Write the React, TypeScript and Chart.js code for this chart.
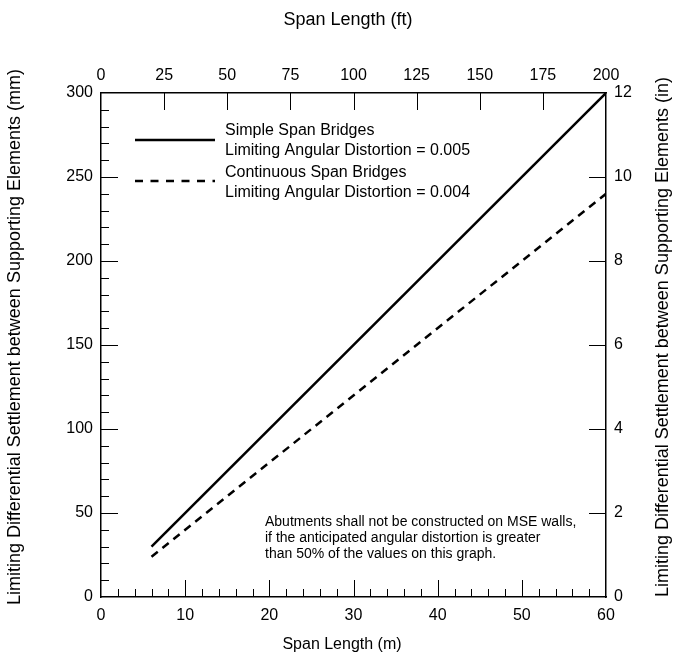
import React, { useEffect, useRef } from "react";
import { Chart, registerables } from "chart.js";

Chart.register(...registerables);

// ---- data ----
const spanM = [6, 60];
const simpleMM = [30, 300];
const continuousMM = [24, 240];
const seriesNames = ["Simple Span Bridges", "Continuous Span Bridges"];
const seriesNotes = ["Limiting Angular Distortion = 0.005", "Limiting Angular Distortion = 0.004"];
const noteLines = [
  "Abutments shall not be constructed on MSE walls,",
  "if the anticipated angular distortion is greater",
  "than 50% of the values on this graph.",
];
const xTitle = "Span Length (m)";
const x2Title = "Span Length (ft)";
const yTitle = "Limiting Differential Settlement between Supporting Elements (mm)";
const y2Title = "Limiting Differential Settlement between Supporting Elements (in)";

const FONT = "'Liberation Sans', Arial, sans-serif";

const decorPlugin = {
  id: "decor",
  afterDraw(chart: any) {
    const ctx = chart.ctx;
    const { left, right, top, bottom } = chart.chartArea;
    const sx = chart.scales.x, sy = chart.scales.y, sx2 = chart.scales.x2, sy2 = chart.scales.y2;
    ctx.save();
    ctx.strokeStyle = "#000";
    ctx.lineWidth = 1;
    // bottom ticks
    for (let v = 2; v < 60; v += 2) {
      const px = Math.round(sx.getPixelForValue(v)) + 0.5;
      const len = v % 10 === 0 ? 17 : 8;
      ctx.beginPath(); ctx.moveTo(px, bottom); ctx.lineTo(px, bottom - len); ctx.stroke();
    }
    // left ticks
    for (let v = 10; v < 300; v += 10) {
      const py = Math.round(sy.getPixelForValue(v)) + 0.5;
      const len = v % 50 === 0 ? 17 : 8;
      ctx.beginPath(); ctx.moveTo(left, py); ctx.lineTo(left + len, py); ctx.stroke();
    }
    // top ticks
    for (let v = 25; v < 200; v += 25) {
      const px = Math.round(sx2.getPixelForValue(v)) + 0.5;
      ctx.beginPath(); ctx.moveTo(px, top); ctx.lineTo(px, top + 17); ctx.stroke();
    }
    // right ticks
    for (let v = 2; v < 12; v += 2) {
      const py = Math.round(sy2.getPixelForValue(v)) + 0.5;
      ctx.beginPath(); ctx.moveTo(right, py); ctx.lineTo(right - 17, py); ctx.stroke();
    }

    // legend
    ctx.lineWidth = 2.5;
    ctx.beginPath(); ctx.moveTo(135, 140); ctx.lineTo(215, 140); ctx.stroke();
    ctx.setLineDash([8, 7.5]);
    ctx.beginPath(); ctx.moveTo(135, 181); ctx.lineTo(215, 181); ctx.stroke();
    ctx.setLineDash([]);

    ctx.fillStyle = "#000";
    ctx.textBaseline = "middle";
    ctx.textAlign = "left";
    ctx.font = `16px ${FONT}`;
    ctx.fillText(seriesNames[0], 225, 131);
    ctx.fillText(seriesNotes[0], 225, 151);
    ctx.fillText(seriesNames[1], 225, 173);
    ctx.fillText(seriesNotes[1], 225, 193);

    ctx.font = `14px ${FONT}`;
    noteLines.forEach((t, i) => ctx.fillText(t, 265, 522 + i * 16));

    // axis titles
    ctx.textAlign = "center";
    ctx.font = `16px ${FONT}`;
    ctx.fillText(xTitle, 342, 645);
    ctx.font = `18px ${FONT}`;
    ctx.fillText(x2Title, 348, 20);
    const vcy = 337;
    ctx.save();
    ctx.translate(15, vcy);
    ctx.rotate(-Math.PI / 2);
    ctx.fillText(yTitle, 0, 0);
    ctx.restore();
    ctx.save();
    ctx.translate(663, vcy);
    ctx.rotate(-Math.PI / 2);
    ctx.fillText(y2Title, 0, 0);
    ctx.restore();
    ctx.restore();
  },
};

export default function App() {
  const ref = useRef<HTMLCanvasElement | null>(null);
  useEffect(() => {
    if (!ref.current) return;
    Chart.defaults.font.family = FONT;
    Chart.defaults.color = "#000";
    const border = { display: true, color: "#000", width: 1.5 };
    const grid = { display: false, drawTicks: false };
    const tickFont = { size: 16, family: FONT };
    const chart = new Chart(ref.current, {
      type: "line",
      data: {
        datasets: [
          {
            label: seriesNames[0],
            data: spanM.map((x, i) => ({ x, y: simpleMM[i] })),
            borderColor: "#000",
            borderWidth: 2.5,
            pointRadius: 0,
            xAxisID: "x",
            yAxisID: "y",
          },
          {
            label: seriesNames[1],
            data: spanM.map((x, i) => ({ x, y: continuousMM[i] })),
            borderColor: "#000",
            borderWidth: 2.5,
            borderDash: [8, 6],
            pointRadius: 0,
            xAxisID: "x",
            yAxisID: "y",
          },
        ],
      },
      options: {
        responsive: false,
        animation: false,
        layout: { padding: 0 },
        plugins: { legend: { display: false }, tooltip: { enabled: false } },
        scales: {
          x: {
            type: "linear", position: "bottom", min: 0, max: 60,
            ticks: { stepSize: 10, font: tickFont, padding: 9, maxRotation: 0 },
            grid, border,
            afterFit: (s: any) => { s.height = 64; },
          },
          x2: {
            type: "linear", position: "top", min: 0, max: 200,
            ticks: { stepSize: 25, font: tickFont, padding: 8, maxRotation: 0 },
            grid, border,
            afterFit: (s: any) => { s.height = 93; },
          },
          y: {
            type: "linear", position: "left", min: 0, max: 300,
            ticks: { stepSize: 50, font: tickFont, padding: 8 },
            grid, border,
            afterFit: (s: any) => { s.width = 101; },
          },
          y2: {
            type: "linear", position: "right", min: 0, max: 12,
            ticks: { stepSize: 2, font: tickFont, padding: 8 },
            grid, border,
            afterFit: (s: any) => { s.width = 67; },
          },
        },
      } as any,
      plugins: [decorPlugin],
    });
    return () => chart.destroy();
  }, []);
  return (
    <div style={{ position: "fixed", left: 0, top: 0, width: 673, height: 661, background: "#fff" }}>
      <canvas ref={ref} width={673} height={661} style={{ width: 673, height: 661, display: "block" }} />
    </div>
  );
}
